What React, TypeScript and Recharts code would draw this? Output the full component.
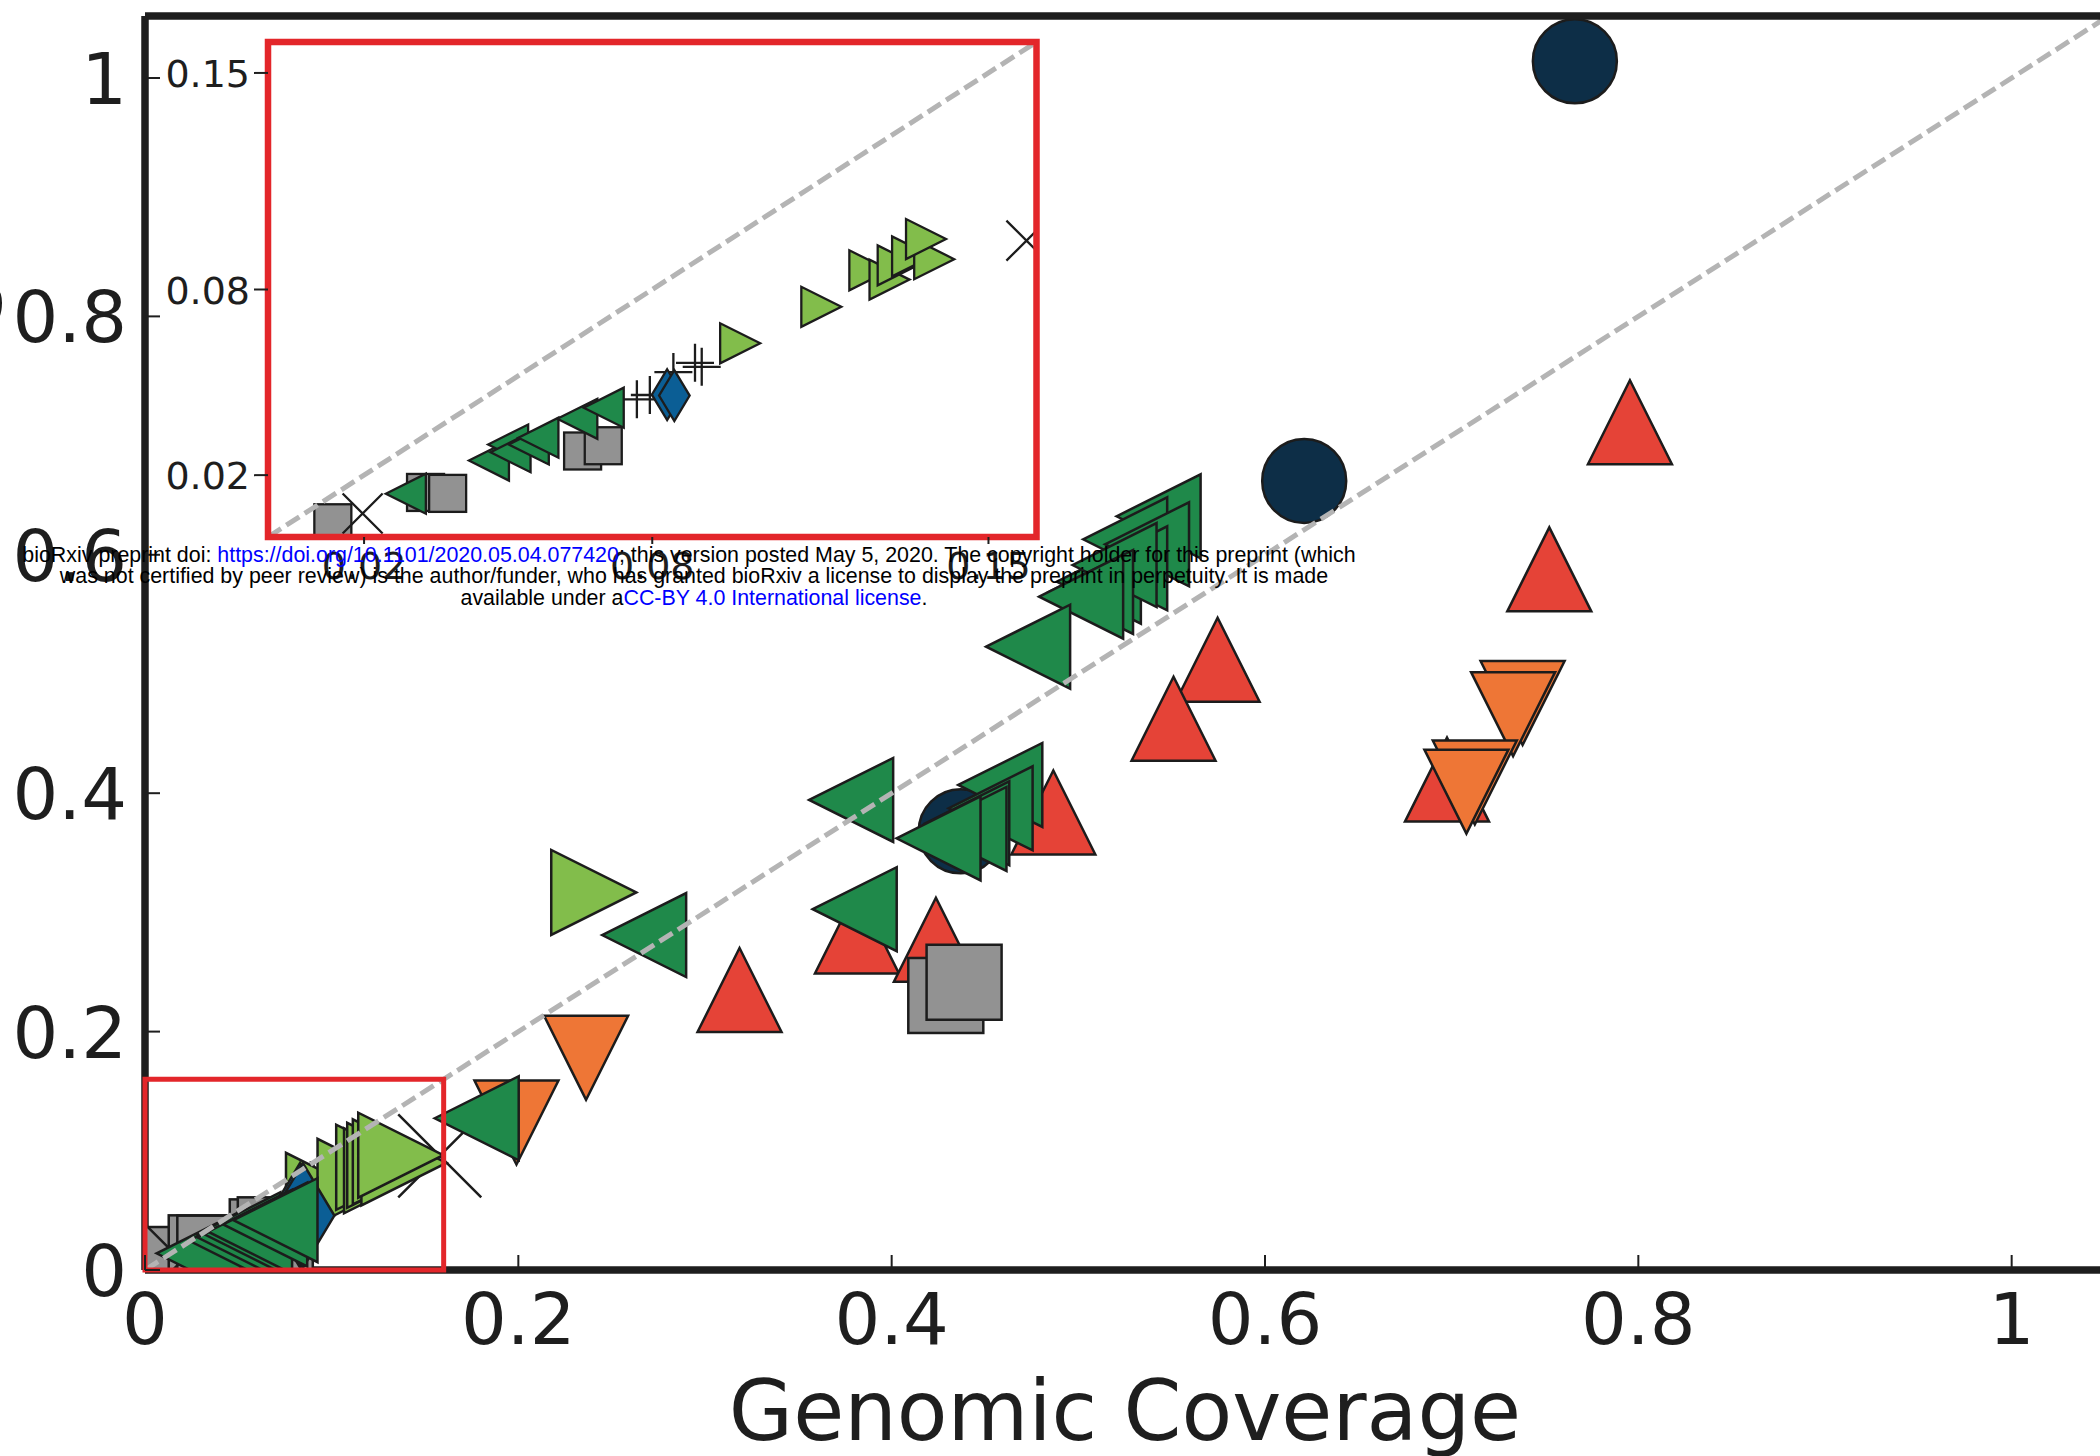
import React from "react";
import {
  ScatterChart,
  Scatter,
  XAxis,
  YAxis,
  ReferenceLine,
  ReferenceArea,
} from "recharts";

// values (genomic coverage vs y coverage)
const navyX = [0.766, 0.621, 0.437];
const navyY = [1.014, 0.662, 0.368];

const redX = [0.7955, 0.7523, 0.5746, 0.551, 0.6975, 0.4866, 0.3814, 0.4237, 0.3185];
const redY = [0.7112, 0.5878, 0.512, 0.4624, 0.4114, 0.3838, 0.284, 0.277, 0.2349];

const grayX = [0.429, 0.4388, 0.0135, 0.0328, 0.0374, 0.0655, 0.0698];
const grayY = [0.2303, 0.2414, 0.0046, 0.0144, 0.0141, 0.0278, 0.0295];

const orangeX = [0.738, 0.7329, 0.7124, 0.7079, 0.2363, 0.199];
const orangeY = [0.4757, 0.4663, 0.409, 0.4013, 0.178, 0.1237];

const crossX = [0.1579, 0.0197];
const crossY = [0.0958, 0.0076];

const plusX = [0.0768, 0.0795, 0.0844, 0.0889, 0.0903];
const plusY = [0.0445, 0.0459, 0.0533, 0.0563, 0.055];

const lightX = [0.2404, 0.0983, 0.1152, 0.1252, 0.1294, 0.1311, 0.1341, 0.1387, 0.137];
const lightY = [0.3167, 0.0626, 0.0744, 0.0862, 0.0832, 0.0878, 0.0907, 0.0898, 0.0963];

const blueX = [0.0831, 0.0846];
const blueY = [0.046, 0.0457];

const darkX = [
  0.543, 0.5251, 0.5368, 0.511, 0.5251, 0.5194, 0.5068, 0.5015, 0.4731, 0.4582, 0.453,
  0.4405, 0.439, 0.4251, 0.3783, 0.3802, 0.2674, 0.1777, 0.0287, 0.046, 0.05, 0.0505,
  0.0543, 0.0563, 0.0644, 0.0699,
];
const darkY = [
  0.6323, 0.613, 0.6088, 0.5774, 0.5887, 0.5914, 0.5688, 0.5649, 0.5229, 0.4069, 0.3873,
  0.3747, 0.37, 0.3621, 0.3943, 0.3027, 0.281, 0.1273, 0.014, 0.0247, 0.0299, 0.0274,
  0.0299, 0.0321, 0.0382, 0.0418,
];

const mainTicks = [0, 0.2, 0.4, 0.6, 0.8, 1];
const insetTicks = [0.02, 0.08, 0.15];
const ZOOM_MAX = 0.16;

const INK = "#1e1e1e";
const EDGE = "#1c1c1c";
const FRAME_RED = "#e3262a";
const DIAG = "#b4b4b4";
const DASH = "15.5 6.3";
const FONT = "'DejaVu Sans', Verdana, sans-serif";

type Kind = "o" | "^" | "v" | "<" | ">" | "s" | "d" | "+" | "x";

interface SeriesDef {
  name: string;
  kind: Kind;
  color: string;
  xs: number[];
  ys: number[];
  main: number;
  inset: number;
}

// draw order follows the original (later series on top)
const SERIES: SeriesDef[] = [
  { name: "navy", kind: "o", color: "#0d2e47", xs: navyX, ys: navyY, main: 84, inset: 40 },
  { name: "red", kind: "^", color: "#e54337", xs: redX, ys: redY, main: 84, inset: 40 },
  { name: "gray", kind: "s", color: "#929292", xs: grayX, ys: grayY, main: 75, inset: 37 },
  { name: "orange", kind: "v", color: "#ee7636", xs: orangeX, ys: orangeY, main: 84, inset: 40 },
  { name: "cross", kind: "x", color: "none", xs: crossX, ys: crossY, main: 83, inset: 40 },
  { name: "plus", kind: "+", color: "none", xs: plusX, ys: plusY, main: 84, inset: 38 },
  { name: "light", kind: ">", color: "#82bd4b", xs: lightX, ys: lightY, main: 85, inset: 40 },
  { name: "blue", kind: "d", color: "#0b5e95", xs: blueX, ys: blueY, main: 74, inset: 36 },
  { name: "dark", kind: "<", color: "#1f894a", xs: darkX, ys: darkY, main: 84, inset: 40 },
];

const toRows = (xs: number[], ys: number[]) => xs.map((x, i) => ({ x, y: ys[i] }));

const pts = (p: number[][]) => p.map((q) => q.join(",")).join(" ");

function marker(kind: Kind, fill: string, cx: number, cy: number, s: number, sw: number) {
  if (cx == null || cy == null) return <g />;
  const h = s / 2;
  const st = { fill, stroke: EDGE, strokeWidth: sw, strokeLinejoin: "miter" as const };
  switch (kind) {
    case "o":
      return <circle cx={cx} cy={cy} r={h} {...st} />;
    case "^":
      return <polygon points={pts([[cx, cy - h], [cx - h, cy + h], [cx + h, cy + h]])} {...st} />;
    case "v":
      return <polygon points={pts([[cx, cy + h], [cx - h, cy - h], [cx + h, cy - h]])} {...st} />;
    case "<":
      return <polygon points={pts([[cx - h, cy], [cx + h, cy - h], [cx + h, cy + h]])} {...st} />;
    case ">":
      return <polygon points={pts([[cx + h, cy], [cx - h, cy - h], [cx - h, cy + h]])} {...st} />;
    case "s":
      return <rect x={cx - h} y={cy - h} width={s} height={s} {...st} />;
    case "d": {
      const hh = s * 0.707;
      const hw = s * 0.425;
      return <polygon points={pts([[cx, cy - hh], [cx + hw, cy], [cx, cy + hh], [cx - hw, cy]])} {...st} />;
    }
    case "+":
      return (
        <path d={`M${cx - h},${cy}H${cx + h}M${cx},${cy - h}V${cy + h}`} stroke={EDGE} strokeWidth={sw} fill="none" />
      );
    case "x":
      return (
        <path
          d={`M${cx - h},${cy - h}L${cx + h},${cy + h}M${cx - h},${cy + h}L${cx + h},${cy - h}`}
          stroke={EDGE}
          strokeWidth={sw}
          fill="none"
        />
      );
  }
  return <g />;
}

function MainXTick(props: any) {
  const { x, y, payload } = props;
  return (
    <g>
      <line x1={x} y1={y} x2={x} y2={y - 15} stroke={INK} strokeWidth={2} />
      <text x={x} y={y + 74} textAnchor="middle" fontFamily={FONT} fontSize={72} fill={INK}>
        {String(payload.value)}
      </text>
    </g>
  );
}

function MainYTick(props: any) {
  const { x, y, payload } = props;
  return (
    <g>
      <line x1={x} y1={y} x2={x + 15} y2={y} stroke={INK} strokeWidth={2} />
      <text x={x - 18} y={y + 26} textAnchor="end" fontFamily={FONT} fontSize={72} fill={INK}>
        {String(payload.value)}
      </text>
    </g>
  );
}

function InsetXTick(props: any) {
  const { x, y, payload } = props;
  return (
    <g>
      <line x1={x} y1={y} x2={x} y2={y + 7} stroke={INK} strokeWidth={2} />
      <text x={x} y={y + 42} textAnchor="middle" fontFamily={FONT} fontSize={38} fill={INK}>
        {Number(payload.value).toFixed(2)}
      </text>
    </g>
  );
}

function InsetYTick(props: any) {
  const { x, y, payload } = props;
  return (
    <g>
      <line x1={x} y1={y} x2={x - 14} y2={y} stroke={INK} strokeWidth={2} />
      <text x={x - 18} y={y + 14} textAnchor="end" fontFamily={FONT} fontSize={38} fill={INK}>
        {Number(payload.value).toFixed(2)}
      </text>
    </g>
  );
}

export default function App() {
  return (
    <div
      style={{
        position: "absolute",
        left: 0,
        top: 0,
        width: 2100,
        height: 1456,
        overflow: "hidden",
        background: "#fff",
      }}
    >
      {/* main axes: plot area 145..2105 x 16..1270 */}
      <div style={{ position: "absolute", left: 0, top: 0 }}>
        <ScatterChart width={2120} height={1456} margin={{ top: 16, right: 15, bottom: 106, left: 45 }}>
          <XAxis
            type="number"
            dataKey="x"
            domain={[0, 1.05]}
            allowDataOverflow
            ticks={mainTicks}
            interval={0}
            height={80}
            tickSize={0}
            tickMargin={0}
            tickLine={false}
            axisLine={{ stroke: INK, strokeWidth: 7.5 }}
            tick={(p: any) => <MainXTick {...p} />}
          />
          <YAxis
            type="number"
            dataKey="y"
            domain={[0, 1.052]}
            allowDataOverflow
            ticks={mainTicks}
            interval={0}
            width={100}
            tickSize={0}
            tickMargin={0}
            tickLine={false}
            axisLine={{ stroke: INK, strokeWidth: 7.5 }}
            tick={(p: any) => <MainYTick {...p} />}
          />
          {SERIES.map((s) => (
            <Scatter
              key={s.name}
              data={toRows(s.xs, s.ys)}
              isAnimationActive={false}
              shape={(p: any) => marker(s.kind, s.color, p.cx, p.cy, s.main, 2.5)}
            />
          ))}
          <ReferenceLine
            segment={[
              { x: 0, y: 0 },
              { x: 1.05, y: 1.05 },
            ]}
            stroke={DIAG}
            strokeWidth={5}
            strokeDasharray={DASH}
            zIndex={900}
          />
          <ReferenceLine y={1.052} stroke={INK} strokeWidth={7.5} zIndex={900} />
          <ReferenceArea
            x1={0}
            x2={ZOOM_MAX}
            y1={0}
            y2={ZOOM_MAX}
            fill="none"
            fillOpacity={0}
            stroke={FRAME_RED}
            strokeWidth={5}
            zIndex={900}
          />
        </ScatterChart>
      </div>

      {/* inset: zoom on [0, 0.16], plot area 268..1036.5 x 42..537 */}
      <div style={{ position: "absolute", left: 268, top: 42, width: 768.5, height: 495, background: "#fff" }} />
      <div style={{ position: "absolute", left: 0, top: 0 }}>
        <ScatterChart width={1100} height={620} margin={{ top: 42, right: 63.5, bottom: 23, left: 168 }}>
          <XAxis
            type="number"
            dataKey="x"
            domain={[0, ZOOM_MAX]}
            allowDataOverflow
            ticks={insetTicks}
            interval={0}
            height={60}
            tickSize={0}
            tickMargin={0}
            tickLine={false}
            axisLine={false}
            tick={(p: any) => <InsetXTick {...p} />}
          />
          <YAxis
            type="number"
            dataKey="y"
            domain={[0, ZOOM_MAX]}
            allowDataOverflow
            ticks={insetTicks}
            interval={0}
            width={100}
            tickSize={0}
            tickMargin={0}
            tickLine={false}
            axisLine={false}
            tick={(p: any) => <InsetYTick {...p} />}
          />
          {SERIES.map((s) => (
            <Scatter
              key={s.name}
              data={toRows(s.xs, s.ys)}
              isAnimationActive={false}
              shape={(p: any) => marker(s.kind, s.color, p.cx, p.cy, s.inset, 2.3)}
            />
          ))}
          <ReferenceLine
            segment={[
              { x: 0, y: 0 },
              { x: ZOOM_MAX, y: ZOOM_MAX },
            ]}
            stroke={DIAG}
            strokeWidth={5}
            strokeDasharray={DASH}
            zIndex={900}
          />
          <ReferenceArea
            x1={0}
            x2={ZOOM_MAX}
            y1={0}
            y2={ZOOM_MAX}
            fill="none"
            fillOpacity={0}
            stroke={FRAME_RED}
            strokeWidth={6.5}
            zIndex={900}
          />
        </ScatterChart>
      </div>

      {/* axis titles and the preprint stamp */}
      <svg
        width={2100}
        height={1456}
        style={{ position: "absolute", left: 0, top: 0, pointerEvents: "none" }}
      >
        <text x={1125} y={1440} textAnchor="middle" fontFamily={FONT} fontSize={83} fill={INK}>
          Genomic Coverage
        </text>
        <text
          x={-15}
          y={643}
          transform="rotate(-90, -15, 643)"
          textAnchor="middle"
          fontFamily={FONT}
          fontSize={83}
          fill={INK}
        >
          Proteomic Coverage
        </text>
        <g fontFamily="'Liberation Sans', Arial, sans-serif" fontSize={21.4} fill="#000" textAnchor="middle">
          <text x={689} y={561.5}>
            bioRxiv preprint doi: <tspan fill="#0000ff">https://doi.org/10.1101/2020.05.04.077420</tspan>; this
            version posted May 5, 2020. The copyright holder for this preprint (which
          </text>
          <text x={694} y={583}>
            was not certified by peer review) is the author/funder, who has granted bioRxiv a license to display the
            preprint in perpetuity. It is made
          </text>
          <text x={694} y={604.5}>
            available under a<tspan fill="#0000ff">CC-BY 4.0 International license</tspan>.
          </text>
        </g>
      </svg>
    </div>
  );
}
